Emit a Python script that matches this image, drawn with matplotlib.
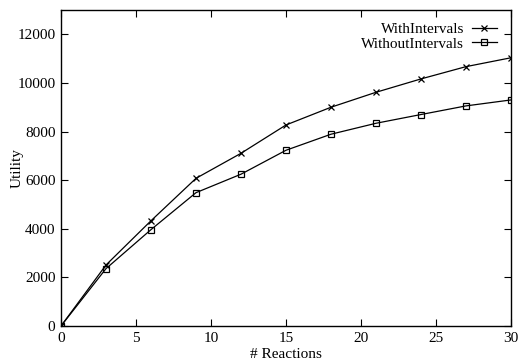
import matplotlib
matplotlib.use("Agg")
import matplotlib.pyplot as plt

reactions = [0, 3, 6, 9, 12, 15, 18, 21, 24, 27, 30]
with_intervals = [0, 2510, 4330, 6075, 7105, 8270, 9000, 9615, 10165, 10670, 11035]
without_intervals = [0, 2360, 3965, 5485, 6245, 7230, 7890, 8340, 8700, 9055, 9300]

plt.rcParams['font.family'] = ['Liberation Serif', 'DejaVu Serif']
plt.rcParams['font.size'] = 11

fig = plt.figure(figsize=(5.19, 3.63), dpi=100)
ax = fig.add_axes([61/519, 37/363, 450/519, 316/363])

ax.plot(reactions, with_intervals, color='black', lw=0.9, marker='x', ms=5, mew=0.9, label='WithIntervals')
ax.plot(reactions, without_intervals, color='black', lw=0.9, marker='s', ms=5, mfc='none', mew=0.9, label='WithoutIntervals')

ax.set_xlim(0, 30)
ax.set_ylim(0, 13000)
ax.set_xticks([0, 5, 10, 15, 20, 25, 30])
ax.set_yticks([0, 2000, 4000, 6000, 8000, 10000, 12000])
ax.tick_params(direction='in', top=True, right=True, length=5, width=0.8, pad=4)
for s in ax.spines.values():
    s.set_linewidth(1.0)

ax.set_xlabel('# Reactions', va='center')
ax.set_ylabel('Utility', va='center')
ax.xaxis.set_label_coords(0.5, (326 - 355) / 316)
ax.yaxis.set_label_coords((17 - 61) / 450, 0.5)

leg = ax.legend(loc='upper right', frameon=False, markerfirst=False, handlelength=1.65,
                handletextpad=0.5, borderaxespad=0.0, borderpad=0.0, labelspacing=0.05,
                bbox_to_anchor=((497 - 61) / 450, (326 - 22.5) / 316))
for t in leg.get_texts():
    t.set_ha('right')

fig.savefig('out.png', dpi=100)
